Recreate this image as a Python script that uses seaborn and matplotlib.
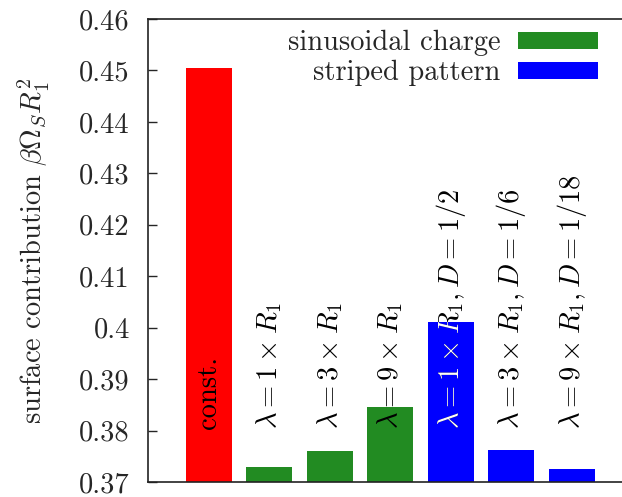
import matplotlib
matplotlib.use("Agg")
import matplotlib.pyplot as plt
from matplotlib.patches import Patch
from matplotlib.transforms import Bbox, TransformedBbox
import seaborn as sns
import pandas as pd

# bar data
categories = ["const", "sin1", "sin3", "sin9", "str1", "str3", "str9"]
values = [0.4505, 0.3729, 0.3760, 0.3845, 0.4011, 0.3762, 0.3725]
bar_colors = ["#ff0000", "#228b22", "#228b22", "#228b22", "#0000ff", "#0000ff", "#0000ff"]
bar_labels = [
    "const.",
    r"$\lambda = 1 \times R_1$",
    r"$\lambda = 3 \times R_1$",
    r"$\lambda = 9 \times R_1$",
    r"$\lambda = 1 \times R_1, D = 1/2$",
    r"$\lambda = 3 \times R_1, D = 1/6$",
    r"$\lambda = 9 \times R_1, D = 1/18$",
]
legend_labels = ["sinusoidal charge", "striped pattern"]
legend_colors = ["#228b22", "#0000ff"]
yticks = [0.37, 0.38, 0.39, 0.40, 0.41, 0.42, 0.43, 0.44, 0.45, 0.46]
ytick_labels = ["0.37", "0.38", "0.39", "0.4", "0.41", "0.42", "0.43", "0.44", "0.45", "0.46"]

sns.set_theme(style="white")
plt.rcParams["font.family"] = ["cmr10", "DejaVu Serif"]
plt.rcParams["mathtext.fontset"] = "cm"
plt.rcParams["axes.unicode_minus"] = False
FS = 20.5

df = pd.DataFrame({"cat": categories, "val": values})

fig = plt.figure(figsize=(6.22, 4.97), dpi=100)
ax = fig.add_axes([148 / 622, 15 / 497, 484.5 / 622, 463 / 497])

sns.barplot(data=df, x="cat", y="val", hue="cat", palette=bar_colors,
            legend=False, width=0.76, saturation=1, ax=ax, linewidth=0)

ax.set_xlim(-1, 7)
ax.set_ylim(0.37, 0.46)
ax.set_xticks([])
ax.set_xlabel("")
ax.set_yticks(yticks)
ax.set_yticklabels(ytick_labels, fontsize=FS)
ax.tick_params(axis="y", direction="in", length=6.5, width=1, pad=13, left=True)
ax.set_ylabel(r"surface contribution $\beta\Omega_S R_1^2$", fontsize=FS, labelpad=20)

for side in ["left", "top", "bottom"]:
    ax.spines[side].set_visible(True)
    ax.spines[side].set_color("#222222")
    ax.spines[side].set_linewidth(1.2)
ax.spines["right"].set_visible(False)

# bar annotations, rotated and starting just above the baseline
bars = sorted(ax.patches, key=lambda p: p.get_x())
for i, (lab, bar) in enumerate(zip(bar_labels, bars)):
    ax.text(i, 0.3803, lab, rotation=90, ha="center", va="bottom",
            fontsize=FS, color="black")
    if i == 4:
        # the part of the label lying inside the blue bar is drawn in white
        t = ax.text(i, 0.3803, lab, rotation=90, ha="center", va="bottom",
                    fontsize=FS, color="white")
        x0, y0 = bar.get_x(), 0.37
        x1, y1 = bar.get_x() + bar.get_width(), bar.get_y() + bar.get_height()
        t.set_clip_box(TransformedBbox(Bbox([[x0 - 0.2, y0], [x1 + 0.2, y1]]), ax.transData))
        t.set_clip_on(True)

handles = [Patch(facecolor=c, edgecolor="none") for c in legend_colors]
fig.legend(handles, legend_labels, loc="upper right",
           bbox_to_anchor=(598 / 622, 1 - 30 / 497), frameon=False,
           markerfirst=False, fontsize=FS, handlelength=2.8, handleheight=0.52,
           handletextpad=0.63, labelspacing=0.13, borderpad=0, borderaxespad=0)

fig.savefig("out.png", dpi=100)
